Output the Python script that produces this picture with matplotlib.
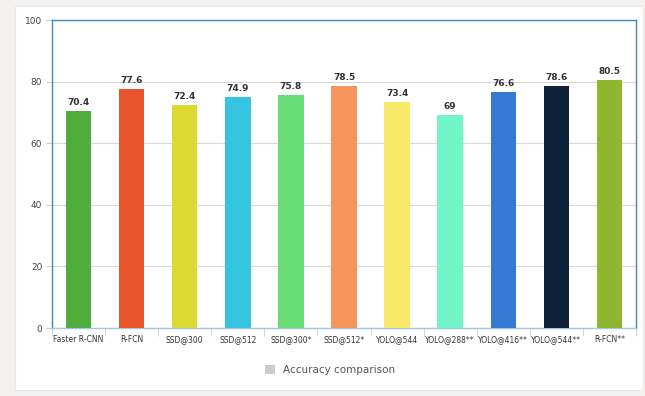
import matplotlib
matplotlib.use("Agg")
import matplotlib.pyplot as plt
from matplotlib.patches import Patch, Rectangle
from matplotlib import font_manager
import numpy as np

categories = ["Faster R-CNN", "R-FCN", "SSD@300", "SSD@512", "SSD@300*", "SSD@512*",
              "YOLO@544", "YOLO@288**", "YOLO@416**", "YOLO@544**", "R-FCN**"]
values = [70.4, 77.6, 72.4, 74.9, 75.8, 78.5, 73.4, 69, 76.6, 78.6, 80.5]
colors = ["#4fae3b", "#e8552b", "#dcd930", "#36c5e0", "#68dc76", "#f6955b",
          "#f9e96a", "#72f5c6", "#3479d4", "#10213a", "#8cb72e"]
yticks = [0, 20, 40, 60, 80, 100]

names = {f.name for f in font_manager.fontManager.ttflist}
narrow = "Liberation Sans Narrow" if "Liberation Sans Narrow" in names else "DejaVu Sans"
xfs = 6.8 if narrow != "DejaVu Sans" else 5.5

fig = plt.figure(figsize=(6.45, 3.96), dpi=100)
fig.patch.set_facecolor("#f4f2f0")
fig.add_artist(Rectangle((15/645, 6/396), 628/645, 384/396, transform=fig.transFigure,
                         facecolor="white", edgecolor="#e8e8e8", lw=0.8, zorder=0))

ax = fig.add_axes([52/645, 1 - 328/396, (636-52)/645, (328-20)/396])
x = np.arange(len(categories))
ax.bar(x, values, width=0.48, color=colors, zorder=3)
for xi, v in zip(x, values):
    ax.text(xi, v + 1.3, f"{v:g}", ha="center", va="bottom", fontsize=6.5,
            fontweight="bold", color="#333333", zorder=4)

ax.set_xlim(-0.5, len(categories) - 0.5)
ax.set_ylim(0, 100)
ax.set_yticks(yticks)
ax.set_yticklabels([str(t) for t in yticks], fontsize=6.5, color="#444444")
ax.yaxis.grid(True, color="#d8d8d8", lw=0.8, zorder=0)
ax.tick_params(axis="y", length=4, color="#cccccc", pad=3)
ax.set_xticks(x)
ax.set_xticklabels(categories, fontsize=xfs, color="#333333", family=narrow)
ax.tick_params(axis="x", length=0, pad=5)
ax.set_xticks(np.arange(-0.5, len(categories)), minor=True)
ax.tick_params(axis="x", which="minor", length=6, color="#cccccc")
for s in ax.spines.values():
    s.set_color("#3f86c8")
    s.set_linewidth(1.0)
ax.spines["bottom"].set_color("#a8c4e0")

fig.legend(handles=[Patch(facecolor="#cccccc", edgecolor="none")],
           labels=["Accuracy comparison"], loc="center", bbox_to_anchor=(330/645, 1 - 370/396),
           frameon=False, fontsize=7.5, handlelength=1.0, handleheight=1.0, labelcolor="#555555")

fig.savefig("out.png", dpi=100, facecolor=fig.get_facecolor())
